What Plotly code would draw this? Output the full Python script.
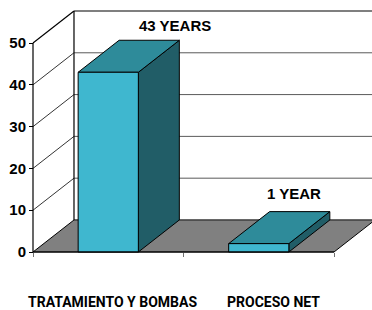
import plotly.graph_objects as go

# ---------------- data ----------------
categories = ["TRATAMIENTO Y BOMBAS", "PROCESO NET"]
values = [43, 2]
value_labels = ["43 YEARS", "1 YEAR"]
y_ticks = [0, 10, 20, 30, 40, 50]

# ---------------- style / projection ----------------
DX = 0.2724      # depth offset in category units
DY = 7.66        # depth offset in value units
BAR_HALF = 0.2   # half bar width in category units
ZMAX = 50
N = len(categories)

FRONT = "#3FB7CF"
TOP = "#2E8B9A"
SIDE = "#215D67"
FLOOR = "#808080"
GRID = "#5a5a5a"

FONT = "Liberation Sans, Arial, sans-serif"
NARROW = "Roboto, Liberation Sans, Arial, sans-serif"

fig = go.Figure()


def poly(xs, ys, fill, lw=1, lc="black"):
    fig.add_trace(go.Scatter(
        x=list(xs) + [xs[0]], y=list(ys) + [ys[0]], mode="lines",
        fill="toself", fillcolor=fill, line=dict(color=lc, width=lw),
        hoverinfo="skip", showlegend=False))


def segs(pairs, color, width):
    xs, ys = [], []
    for (x0, y0), (x1, y1) in pairs:
        xs += [x0, x1, None]
        ys += [y0, y1, None]
    fig.add_trace(go.Scatter(x=xs, y=ys, mode="lines",
                             line=dict(color=color, width=width),
                             hoverinfo="skip", showlegend=False))


# floor
poly([0, DX, N + DX, N], [0, DY, DY, 0], FLOOR)

# back wall gridlines
segs([((DX, v + DY), (N + DX, v + DY)) for v in y_ticks[:-1]], GRID, 1)
# left wall gridlines
segs([((0, v), (DX, v + DY)) for v in y_ticks[1:-1]], "black", 0.8)
# wall frame
segs([((0, ZMAX), (DX, ZMAX + DY)), ((DX, ZMAX + DY), (N + DX, ZMAX + DY)),
      ((DX, DY), (DX, ZMAX + DY)), ((0, 0), (0, ZMAX))], "black", 1.2)

# bars
for i, h in enumerate(values):
    c = i + 0.5
    x0, x1 = c - BAR_HALF, c + BAR_HALF
    poly([x1, x1 + DX, x1 + DX, x1], [0, DY, h + DY, h], SIDE)
    poly([x0, x1, x1 + DX, x0 + DX], [h, h, h + DY, h + DY], TOP)
    poly([x0, x1, x1, x0], [0, 0, h, h], FRONT)

# floor front edge
segs([((0, 0), (N, 0))], "black", 1.2)

# value labels
label_shift = [(67, 47), (35, 50)]
for i, (h, t) in enumerate(zip(values, value_labels)):
    fig.add_annotation(x=i + 0.5, y=h, text=f"<b>{t}</b>", showarrow=False,
                       xshift=label_shift[i][0], yshift=label_shift[i][1],
                       font=dict(family=FONT, size=15, color="black"))

# category labels
cat_shift = [4, 15]
for i, t in enumerate(categories):
    fig.add_annotation(x=i + 0.5, y=0, text=f"<b>{t}</b>", showarrow=False,
                       xshift=cat_shift[i], yshift=-50,
                       font=dict(family=NARROW, size=14, color="black"))

W, H = 372, 310
ML, MB = 28, 50
fig.update_layout(
    width=W, height=H,
    margin=dict(l=ML, r=0, t=0, b=MB, pad=0),
    paper_bgcolor="white", plot_bgcolor="white",
    showlegend=False, hovermode=False,
    xaxis=dict(range=[-0.0332, 2.2525], anchor="free", position=8 / 260,
               tickvals=list(range(N + 1)), ticktext=[""] * (N + 1),
               ticks="outside", ticklen=4, tickcolor="#707070",
               showgrid=False, zeroline=False, showline=False, fixedrange=True),
    yaxis=dict(range=[-1.914, 60.29], anchor="free", position=5 / 344,
               tickvals=y_ticks, ticks="outside", ticklen=4, tickcolor="black",
               tickfont=dict(family=FONT, size=15, color="black", weight="bold"),
               showgrid=False, zeroline=False, showline=False, fixedrange=True),
)

fig.write_html(
    "out.html",
    config={"displayModeBar": False, "staticPlot": True},
    post_script="document.body.style.margin='0';document.body.style.overflow='hidden';",
)
